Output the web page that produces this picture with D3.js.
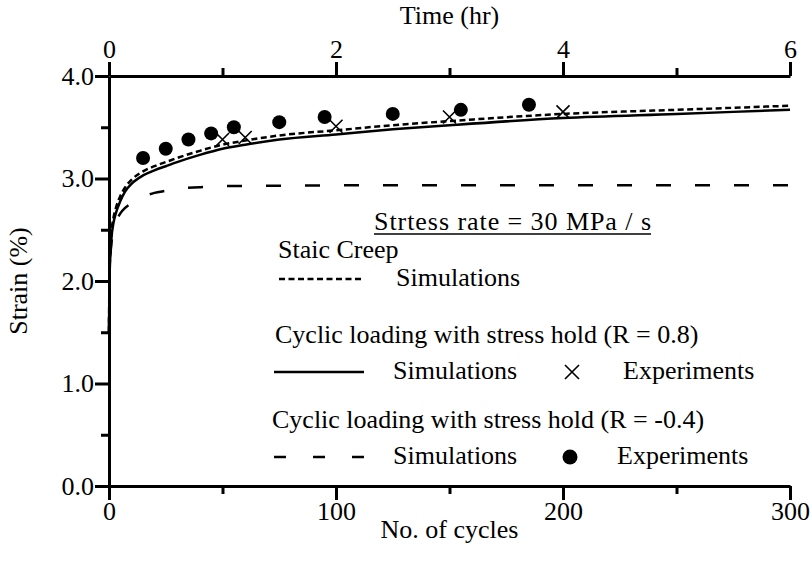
<!DOCTYPE html>
<html>
<head>
<meta charset="utf-8">
<script src="https://cdn.jsdelivr.net/npm/d3@7/dist/d3.min.js"></script>
<style>
  html, body { margin: 0; padding: 0; background: #fff; }
  svg { display: block; }
  text { font-family: "Liberation Serif", "Times New Roman", serif; fill: #000; }
</style>
</head>
<body>
<script>
// ---------------- data ----------------
const staticCycles   = [0, 0.2, 0.5, 1, 2, 3, 5, 7, 10, 15, 20, 25, 30, 40, 50, 60, 75, 100, 125, 150, 200, 250, 300];
const staticStrain   = [1.5, 2.05, 2.25, 2.45, 2.62, 2.71, 2.83, 2.91, 2.99, 3.07, 3.12, 3.16, 3.20, 3.27, 3.33, 3.37, 3.42, 3.47, 3.52, 3.56, 3.63, 3.67, 3.71];

const r08Cycles      = [0, 0.2, 0.5, 1, 2, 3, 5, 7, 10, 15, 20, 25, 30, 40, 50, 60, 75, 100, 125, 150, 200, 250, 300];
const r08Strain      = [1.5, 2.0, 2.2, 2.4, 2.57, 2.66, 2.78, 2.87, 2.95, 3.03, 3.08, 3.12, 3.16, 3.23, 3.29, 3.33, 3.38, 3.43, 3.48, 3.52, 3.59, 3.63, 3.67];

const rm04Cycles     = [0, 0.2, 0.5, 1, 2, 3, 5, 7, 10, 15, 20, 25, 30, 40, 50, 75, 100, 150, 200, 250, 300];
const rm04Strain     = [1.5, 2.0, 2.2, 2.35, 2.5, 2.57, 2.66, 2.71, 2.76, 2.82, 2.86, 2.88, 2.90, 2.915, 2.925, 2.93, 2.933, 2.934, 2.935, 2.935, 2.935];

const r08ExpCycles   = [50, 60, 100, 150, 200];
const r08ExpStrain   = [3.38, 3.40, 3.51, 3.60, 3.65];

const rm04ExpCycles  = [15, 25, 35, 45, 55, 75, 95, 125, 155, 185];
const rm04ExpStrain  = [3.20, 3.29, 3.38, 3.44, 3.50, 3.55, 3.60, 3.63, 3.67, 3.72];

const cycleTicks      = [0, 100, 200, 300];
const cycleMinorTicks = [50, 150, 250];
const timeTicks       = [0, 2, 4, 6];
const timeMinorTicks  = [1, 3, 5];
const strainTicks      = [0, 1, 2, 3, 4];
const strainMinorTicks = [0.5, 1.5, 2.5, 3.5];

const xTitle = "No. of cycles";
const topTitle = "Time (hr)";
const yTitle = "Strain (%)";
const legendTitle = "Strtess rate = 30 MPa / s";
const legendGroups = ["Staic Creep", "Cyclic loading with stress hold (R = 0.8)", "Cyclic loading with stress hold (R = -0.4)"];
const legendSim = "Simulations";
const legendExp = "Experiments";

// ---------------- layout ----------------
const W = 812, H = 562;
const L = 109, R = 790, T = 76, B = 486;
const FS = 26;

const svg = d3.select("body").append("svg").attr("width", W).attr("height", H);

const x = d3.scaleLinear().domain([0, 300]).range([L, R]);
const xTop = d3.scaleLinear().domain([0, 6]).range([L, R]);
const y = d3.scaleLinear().domain([0, 4]).range([B, T]);

function styleAxis(g) {
  g.selectAll("path.domain").attr("stroke", "#000").attr("stroke-width", 3);
  g.selectAll(".tick line").attr("stroke", "#000").attr("stroke-width", 3);
  g.selectAll(".tick text").style("font-family", '"Liberation Serif", serif').style("font-size", FS + "px").attr("fill", "#000");
}

// minor ticks
svg.append("g").attr("transform", `translate(0,${B})`)
  .call(d3.axisBottom(x).tickValues(cycleMinorTicks).tickSize(8).tickSizeOuter(0).tickFormat(""))
  .call(styleAxis).call(g => g.select(".domain").remove());
svg.append("g").attr("transform", `translate(0,${T})`)
  .call(d3.axisTop(xTop).tickValues(timeMinorTicks).tickSize(8).tickSizeOuter(0).tickFormat(""))
  .call(styleAxis).call(g => g.select(".domain").remove());
svg.append("g").attr("transform", `translate(${L},0)`)
  .call(d3.axisLeft(y).tickValues(strainMinorTicks).tickSize(8).tickSizeOuter(0).tickFormat(""))
  .call(styleAxis).call(g => g.select(".domain").remove());

// major axes
svg.append("g").attr("transform", `translate(0,${B})`)
  .call(d3.axisBottom(x).tickValues(cycleTicks).tickSize(14).tickSizeOuter(0).tickPadding(2).tickFormat(d3.format("d")))
  .call(styleAxis);
svg.append("g").attr("transform", `translate(0,${T})`)
  .call(d3.axisTop(xTop).tickValues(timeTicks).tickSize(14).tickSizeOuter(0).tickPadding(4).tickFormat(d3.format("d")))
  .call(styleAxis);
svg.append("g").attr("transform", `translate(${L},0)`)
  .call(d3.axisLeft(y).tickValues(strainTicks).tickSize(14).tickSizeOuter(0).tickPadding(1).tickFormat(d3.format(".1f")))
  .call(styleAxis);

// axis titles
svg.append("text").attr("x", (L + R) / 2).attr("y", 24).attr("text-anchor", "middle").style("font-size", FS + "px").text(topTitle);
svg.append("text").attr("x", (L + R) / 2).attr("y", 538).attr("text-anchor", "middle").style("font-size", FS + "px").text(xTitle);
svg.append("text").attr("transform", `translate(27,${(T + B) / 2}) rotate(-90)`).attr("text-anchor", "middle").style("font-size", FS + "px").text(yTitle);

// curves
const line = d3.line().x(d => x(d[0])).y(d => y(d[1])).curve(d3.curveMonotoneX);
const plot = svg.append("g");
plot.append("path").datum(d3.zip(rm04Cycles, rm04Strain)).attr("d", line)
  .attr("fill", "none").attr("stroke", "#000").attr("stroke-width", 2.5).attr("stroke-dasharray", "15,24");
plot.append("path").datum(d3.zip(r08Cycles, r08Strain)).attr("d", line)
  .attr("fill", "none").attr("stroke", "#000").attr("stroke-width", 2.5);
plot.append("path").datum(d3.zip(staticCycles, staticStrain)).attr("d", line)
  .attr("fill", "none").attr("stroke", "#000").attr("stroke-width", 2.5).attr("stroke-dasharray", "6,3.5");

// markers
const crossPath = s => `M${-s},${-s}L${s},${s}M${-s},${s}L${s},${-s}`;
plot.selectAll("circle.exp").data(d3.zip(rm04ExpCycles, rm04ExpStrain)).join("circle")
  .attr("class", "exp").attr("cx", d => x(d[0])).attr("cy", d => y(d[1])).attr("r", 7).attr("fill", "#000");
plot.selectAll("path.cross").data(d3.zip(r08ExpCycles, r08ExpStrain)).join("path")
  .attr("class", "cross").attr("transform", d => `translate(${x(d[0])},${y(d[1])})`)
  .attr("d", crossPath(6.5)).attr("stroke", "#000").attr("stroke-width", 1.6).attr("fill", "none");

// legend
const lg = svg.append("g");
const t0 = lg.append("text").attr("x", 374).attr("y", 230).attr("textLength", 277).attr("lengthAdjust", "spacing")
  .style("font-size", FS + "px").text(legendTitle);
lg.append("line").attr("x1", 374).attr("x2", 651).attr("y1", 234).attr("y2", 234).attr("stroke", "#000").attr("stroke-width", 1.5);

lg.append("text").attr("x", 278).attr("y", 258).style("font-size", FS + "px").text(legendGroups[0]);
lg.append("line").attr("x1", 279).attr("x2", 364).attr("y1", 279).attr("y2", 279).attr("stroke", "#000").attr("stroke-width", 2.5).attr("stroke-dasharray", "6,3.5");
lg.append("text").attr("x", 396).attr("y", 286).style("font-size", FS + "px").text(legendSim);

lg.append("text").attr("x", 275).attr("y", 343).style("font-size", FS + "px").text(legendGroups[1]);
lg.append("line").attr("x1", 274).attr("x2", 364).attr("y1", 372).attr("y2", 372).attr("stroke", "#000").attr("stroke-width", 2.5);
lg.append("text").attr("x", 393).attr("y", 379).style("font-size", FS + "px").text(legendSim);
lg.append("path").attr("transform", "translate(572,372)").attr("d", crossPath(7)).attr("stroke", "#000").attr("stroke-width", 1.6).attr("fill", "none");
lg.append("text").attr("x", 623).attr("y", 379).style("font-size", FS + "px").text(legendExp);

lg.append("text").attr("x", 272).attr("y", 428).style("font-size", FS + "px").text(legendGroups[2]);
lg.append("line").attr("x1", 274).attr("x2", 364).attr("y1", 457).attr("y2", 457).attr("stroke", "#000").attr("stroke-width", 2.5).attr("stroke-dasharray", "12,27");
lg.append("text").attr("x", 393).attr("y", 464).style("font-size", FS + "px").text(legendSim);
lg.append("circle").attr("cx", 570).attr("cy", 457).attr("r", 7.5).attr("fill", "#000");
lg.append("text").attr("x", 617).attr("y", 464).style("font-size", FS + "px").text(legendExp);
</script>
</body>
</html>
